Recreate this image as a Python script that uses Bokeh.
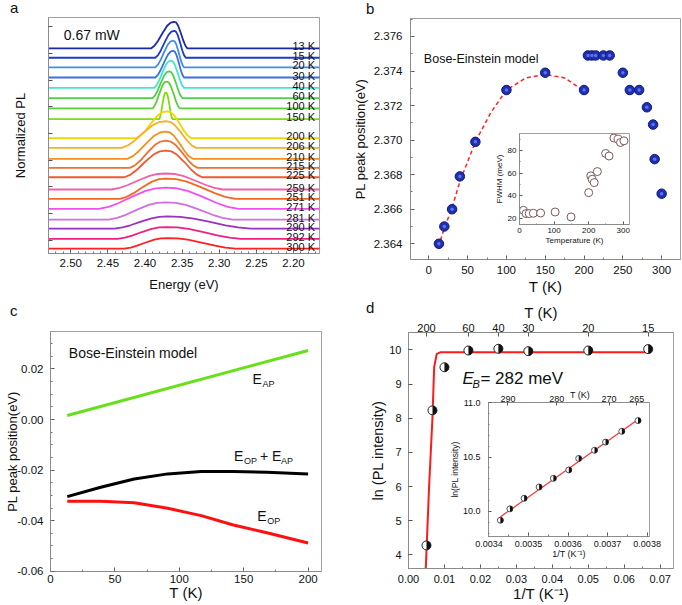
import math
from bokeh.plotting import figure
from bokeh.models import (Range1d, LinearAxis, FixedTicker, SingleIntervalTicker,
                          NumeralTickFormatter, CustomJSTickFormatter, Label, Div)
from bokeh.layouts import column
from bokeh.embed import file_html
from bokeh.resources import INLINE
from bokeh.core.properties import value

FONT = "Liberation Sans"

# ---------------- panel a : stacked normalized PL spectra ----------------
a_labels = ["13 K", "15 K", "20 K", "30 K", "40 K", "60 K", "100 K", "150 K", "200 K", "206 K",
            "210 K", "215 K", "225 K", "259 K", "251 K", "271 K", "281 K", "290 K", "292 K", "300 K"]
a_base = [7.19, 6.84, 6.48, 6.10, 5.71, 5.33, 4.94, 4.54, 3.83, 3.46,
          3.05, 2.71, 2.36, 1.90, 1.55, 1.17, 0.77, 0.43, 0.05, -0.32]
a_height = [1.00, 1.01, 1.00, 1.00, 1.02, 1.00, 1.01, 1.00, 1.00, 1.00,
            1.02, 1.02, 1.00, 0.60, 0.76, 0.80, 0.65, 0.46, 0.44, 0.40]
a_peak = [2.3607, 2.3607, 2.3621, 2.3621, 2.3652, 2.3674, 2.3709, 2.3719, 2.3705, 2.3719,
          2.3719, 2.3719, 2.3719, 2.3720, 2.3719, 2.3720, 2.3720, 2.3700, 2.3715, 2.3700]
a_left = [2.3920, 2.3862, 2.3862, 2.3862, 2.3876, 2.3898, 2.3898, 2.3808, 2.4116, 2.4317,
          2.4241, 2.4205, 2.4277, 2.4450, 2.4340, 2.4625, 2.4490, 2.4410, 2.4370, 2.4280]
a_right = [2.3429, 2.3452, 2.3475, 2.3475, 2.3475, 2.3497, 2.3531, 2.3630, 2.3380, 2.3313,
           2.3357, 2.3290, 2.3228, 2.2950, 2.2780, 2.2740, 2.2820, 2.2580, 2.2710, 2.2780]
a_colors = ["#1a2aa8", "#1e3cc8", "#3f8fe6", "#3d6fe0", "#3fe6d6", "#4ad44a", "#5ad038", "#7edc10",
            "#f5d400", "#f5b027", "#f5901e", "#f07030", "#f05a30", "#f060a8", "#f06a1e", "#f050f0",
            "#d070e0", "#9a30c0", "#f02080", "#ff2020"]
a_shape_frac = [0.0, 0.15, 0.3, 0.5, 0.7, 0.85, 1.0]
a_shape_h = [0.0, 0.10, 0.28, 0.58, 0.85, 0.97, 1.0]
a_span = [2.56, 2.14]

# ---------------- panel b : PL peak position vs T ----------------
b_T = [13, 20, 30, 40, 60, 100, 150, 200, 205, 210, 215, 225, 233, 250, 259, 271, 281, 289, 291, 300]
b_E = [2.3640, 2.3650, 2.3660, 2.3679, 2.3699, 2.3729, 2.3739, 2.3729, 2.3749, 2.3749,
       2.3749, 2.3749, 2.3749, 2.3739, 2.3729, 2.3729, 2.3719, 2.3709, 2.3689, 2.3669]
b_fit_T = [15, 20, 30, 40, 60, 80, 100, 125, 150, 175, 198]
b_fit_E = [2.3642, 2.3649, 2.3661, 2.3676, 2.3699, 2.3716, 2.3729, 2.3736, 2.3738, 2.3736, 2.3729]
# inset: FWHM vs temperature
bi_T = [11.5, 19, 28, 40, 61, 103, 149, 200, 206, 210, 216, 225, 249, 259, 273, 285, 292, 302]
bi_F = [27.1, 24.2, 24.2, 24.5, 24.7, 25.6, 21.2, 42.8, 57.7, 54.7, 51.7, 61.5, 77.6, 75.3,
        91.3, 90.3, 87.3, 88.8]

# ---------------- panel c : Bose-Einstein components ----------------
c_ap_T = [13, 200]
c_ap_E = [0.0016, 0.0273]
c_T = [13, 39, 65, 91, 117, 142, 168, 200]
c_sum_E = [-0.0305, -0.0268, -0.0235, -0.0215, -0.0206, -0.0206, -0.0209, -0.0215]
c_op_E = [-0.0323, -0.0323, -0.0329, -0.0351, -0.0380, -0.0417, -0.0448, -0.0488]

# ---------------- panel d : Arrhenius plot ----------------
d_T = [200, 150, 100, 60, 40, 30, 20, 15]
d_lnI = [4.28, 8.23, 9.49, 9.98, 10.03, 9.96, 9.98, 10.02]
d_fit_invT = [0.0048, 0.00572, 0.00667, 0.00713, 0.00786, 0.00897, 0.0200, 0.0400, 0.0667]
d_fit_lnI = [3.60, 5.98, 8.03, 9.49, 9.88, 9.93, 9.93, 9.93, 9.93]
d_top_T = [200, 60, 40, 30, 20, 15]
# inset
di_invT = [0.003429, 0.003453, 0.003489, 0.003527, 0.003563, 0.003602, 0.003627, 0.003667,
           0.003695, 0.003736, 0.003777]
di_lnI = [9.919, 10.024, 10.121, 10.225, 10.304, 10.382, 10.487, 10.562, 10.637, 10.736, 10.835]
di_fit_invT = [0.003429, 0.003777]
di_fit_lnI = [9.95, 10.845]
di_top_T = [290, 280, 270, 265]

AXIS_GRAY = "#8c8c8c"
X_OFF, Y_OFF = 0, 0   # where the layout root sits on the page


def make_fig(w, h, xr, yr, bl, br, bt, bb, **kw):
    p = figure(width=w, height=h, x_range=xr, y_range=yr, output_backend="svg",
               toolbar_location=None, min_border_left=bl, min_border_right=br,
               min_border_top=bt, min_border_bottom=bb, frame_align=False, **kw)
    p.grid.visible = False
    p.outline_line_color = "#a0a0a0"
    p.outline_line_width = 1
    return p


def style_axis(ax, tick_fs, label_fs, lab_standoff, axlab_standoff):
    ax.major_label_text_font = FONT
    ax.major_label_text_font_size = tick_fs
    ax.major_label_text_color = "#111111"
    ax.axis_label_text_font = FONT
    ax.axis_label_text_font_size = label_fs
    ax.axis_label_text_font_style = "normal"
    ax.axis_label_text_color = "#111111"
    ax.major_label_standoff = lab_standoff
    ax.axis_label_standoff = axlab_standoff
    ax.major_tick_in = 4
    ax.major_tick_out = 0
    ax.minor_tick_in = 2
    ax.minor_tick_out = 0
    ax.axis_line_color = AXIS_GRAY
    ax.major_tick_line_color = "#555555"
    ax.minor_tick_line_color = "#777777"


def place(obj, left, top):
    obj.styles = {"position": "absolute", "left": f"{left - X_OFF}px", "top": f"{top - Y_OFF}px"}


# ======================= panel a =======================
pa = make_fig(338, 300, Range1d(2.53, 2.165), Range1d(-0.5, 8.35), 48, 19, 17, 47)
xs, ys = [], []
for base, h, el, ep, er in zip(a_base, a_height, a_left, a_peak, a_right):
    x = [a_span[0]] + [el + f * (ep - el) for f in a_shape_frac] + \
        [er + f * (ep - er) for f in reversed(a_shape_frac[:-1])] + [a_span[1]]
    y = [base] + [base + h * s for s in a_shape_h] + \
        [base + h * s for s in reversed(a_shape_h[:-1])] + [base]
    xs.append(x)
    ys.append(y)
for x, y, c in zip(xs, ys, a_colors):
    pa.line(x, y, line_color=c, line_width=1.8)
pa.text(x=2.171, y=a_base, text=a_labels, text_align="right", text_baseline="alphabetic",
        y_offset=-2, text_font=value(FONT), text_font_size="11px", text_color="#111111")
pa.add_layout(Label(x=2.5094, y=7.70, text="0.67 mW", text_font=FONT, text_font_size="14px",
                    text_baseline="middle", text_align="left", text_color="#111111"))
pa.xaxis.ticker = SingleIntervalTicker(interval=0.05, num_minor_ticks=5)
pa.xaxis.formatter = NumeralTickFormatter(format="0.00")
pa.xaxis.axis_label = "Energy (eV)"
style_axis(pa.xaxis[0], "11.5px", "13px", 5, 7)
pa.yaxis.ticker = SingleIntervalTicker(interval=1, num_minor_ticks=0)
pa.yaxis.formatter = CustomJSTickFormatter(code="return '';")
pa.yaxis.axis_label = "Normalized PL"
style_axis(pa.yaxis[0], "1px", "13px", 0, 21)
place(pa, 0, 0)

# ======================= panel b =======================
pb = make_fig(342, 300, Range1d(-23.6, 324.3), Range1d(2.36309, 2.37704), 70, 2, 18, 41)
pb.line(b_fit_T, b_fit_E, line_color="#ff2020", line_width=1.5, line_dash="4 3")
pb.scatter(b_T, b_E, size=9.5, fill_color="#1f2fb4", line_color="#0d1a7a", line_width=1)
pb.scatter(b_T, b_E, size=3.5, fill_color="#6f84f0", line_color=None, fill_alpha=0.8)
pb.add_layout(Label(x=-6.4, y=2.37471, text="Bose-Einstein model", text_font=FONT,
                    text_font_size="12.5px", text_baseline="middle", text_color="#111111"))
pb.xaxis.ticker = SingleIntervalTicker(interval=50, num_minor_ticks=2)
pb.xaxis.axis_label = "T (K)"
style_axis(pb.xaxis[0], "11.5px", "15px", 6, 1)
pb.yaxis.ticker = SingleIntervalTicker(interval=0.002, num_minor_ticks=2)
pb.yaxis.formatter = NumeralTickFormatter(format="0.000")
pb.yaxis.axis_label = "PL peak position(eV)"
style_axis(pb.yaxis[0], "11.5px", "13px", 8, 3)
place(pb, 340, 0)

# inset of b
ib = make_fig(142, 124, Range1d(0, 318), Range1d(14.5, 95.3), 27, 4, 5, 28)
ib.border_fill_color = None
ib.scatter(bi_T, bi_F, size=8, fill_color="white", line_color="#7a5a5a", line_width=1)
ib.xaxis.ticker = SingleIntervalTicker(interval=100, num_minor_ticks=2)
ib.xaxis.axis_label = "Temperature (K)"
style_axis(ib.xaxis[0], "8px", "8px", 3, 0)
ib.yaxis.ticker = SingleIntervalTicker(interval=20, num_minor_ticks=2)
ib.yaxis.axis_label = "FWHM (meV)"
style_axis(ib.yaxis[0], "8px", "8px", 3, 1)
for ax in (ib.xaxis[0], ib.yaxis[0]):
    ax.major_tick_in = 3
    ax.minor_tick_in = 1
place(ib, 491, 128)

# ======================= panel c =======================
pc = make_fig(338, 305, Range1d(0, 210.4), Range1d(-0.0601, 0.0348), 50, 17, 31, 34)
pc.line(c_ap_T, c_ap_E, line_color="#66e01a", line_width=3)
pc.line(c_T, c_sum_E, line_color="#000000", line_width=3)
pc.line(c_T, c_op_E, line_color="#ff1010", line_width=3)
pc.add_layout(Label(x=14.2, y=0.02633, text="Bose-Einstein model", text_font=FONT,
                    text_font_size="14px", text_baseline="middle", text_color="#111111"))


def sub_label(p, x, y, parts):
    # parts: list of (text, size, dx, dy, style)
    for t, fs, dx, dy, st in parts:
        p.add_layout(Label(x=x, y=y, x_offset=dx, y_offset=dy, text=t, text_font=FONT,
                           text_font_size=fs, text_font_style=st, text_baseline="middle",
                           text_color="#111111"))


sub_label(pc, 156.8, 0.01616, [("E", "14px", 0, 0, "normal"), ("AP", "9px", 10, -5, "normal")])
sub_label(pc, 142.5, -0.01428, [("E", "14px", 0, 0, "normal"), ("OP", "9px", 10, -5, "normal"),
                                ("+ E", "14px", 26, 0, "normal"), ("AP", "9px", 47, -5, "normal")])
sub_label(pc, 160.6, -0.0380, [("E", "14px", 0, 0, "normal"), ("OP", "9px", 10, -5, "normal")])
pc.xaxis.ticker = SingleIntervalTicker(interval=50, num_minor_ticks=2)
pc.xaxis.axis_label = "T (K)"
style_axis(pc.xaxis[0], "11.5px", "15px", 3, -2)
pc.yaxis.ticker = SingleIntervalTicker(interval=0.02, num_minor_ticks=4)
pc.yaxis.formatter = NumeralTickFormatter(format="0.00")
pc.yaxis.axis_label = "PL peak position(eV)"
style_axis(pc.yaxis[0], "11.5px", "13px", 7, -6)
place(pc, 0, 300)

# ======================= panel d =======================
d_invT = [1.0 / t for t in d_T]
pd = make_fig(342, 305, Range1d(0, 0.0737), Range1d(3.605, 10.506), 68, 9, 32, 37)
pd.line(d_fit_invT, d_fit_lnI, line_color="#ff1a1a", line_width=2)
pd.scatter(d_invT, d_lnI, size=9, fill_color="white", line_color="#222222", line_width=1)
pd.wedge(d_invT, d_lnI, radius=4.5, radius_units="screen", start_angle=-math.pi / 2,
         end_angle=math.pi / 2, fill_color="#111111", line_color=None)
sub_label(pd, 0.0150, 9.15, [("E", "17px", 0, 0, "italic"), ("B", "11px", 10, -5, "italic"),
                             ("= 282 meV", "17px", 18, 0, "normal")])
pd.xaxis.ticker = SingleIntervalTicker(interval=0.01, num_minor_ticks=2)
pd.xaxis.formatter = NumeralTickFormatter(format="0.00")
pd.xaxis.axis_label = "1/T (K\u207b\u00b9)"
style_axis(pd.xaxis[0], "11px", "15px", 6, -1)
pd.yaxis.ticker = SingleIntervalTicker(interval=1, num_minor_ticks=0)
pd.yaxis.axis_label = "ln (PL intensity)"
style_axis(pd.yaxis[0], "11px", "14.5px", 7, 0)
top_d = LinearAxis(ticker=FixedTicker(ticks=[1.0 / t for t in d_top_T]),
                   formatter=CustomJSTickFormatter(code="return Math.round(1/tick).toString();"),
                   axis_label="T (K)")
style_axis(top_d, "11px", "15px", 1, 0)
pd.add_layout(top_d, "above")
place(pd, 340, 300)

# inset of d
idf = make_fig(216, 192, Range1d(0.003399, 0.003806), Range1d(9.77, 11.001), 38, 13, 18, 40)
idf.border_fill_color = None
idf.line(di_fit_invT, di_fit_lnI, line_color="#ff3030", line_width=1.2)
idf.scatter(di_invT, di_lnI, size=6, fill_color="white", line_color="#555555", line_width=1)
idf.wedge(di_invT, di_lnI, radius=3, radius_units="screen", start_angle=-math.pi / 2,
          end_angle=math.pi / 2, fill_color="#111111", line_color=None)
idf.xaxis.ticker = SingleIntervalTicker(interval=0.0001, num_minor_ticks=2)
idf.xaxis.formatter = NumeralTickFormatter(format="0.0000")
idf.xaxis.axis_label = "1/T (K\u207b\u00b9)"
style_axis(idf.xaxis[0], "9px", "9px", 4, -1)
idf.yaxis.ticker = SingleIntervalTicker(interval=0.5, num_minor_ticks=5)
idf.yaxis.formatter = NumeralTickFormatter(format="0.0")
idf.yaxis.axis_label = "ln(PL intensity)"
style_axis(idf.yaxis[0], "9px", "8.5px", 8, 0)
top_di = LinearAxis(ticker=FixedTicker(ticks=[1.0 / t for t in di_top_T]),
                    formatter=CustomJSTickFormatter(code="return Math.round(1/tick).toString();"))
style_axis(top_di, "9px", "9px", 1, 0)
idf.add_layout(top_di, "above")
for ax in (idf.xaxis[0], idf.yaxis[0], top_di):
    ax.major_tick_in = 3
    ax.minor_tick_in = 1
place(idf, 446, 384)


def div_text(t, left, top, fs, style="normal"):
    d = Div(text=t, margin=0)
    d.styles = {"position": "absolute", "left": f"{left - X_OFF}px", "top": f"{top - Y_OFF}px",
                "font-size": fs, "font-family": FONT, "font-style": style, "color": "#111111",
                "line-height": "1", "white-space": "nowrap", "padding": "0", "margin": "0"}
    return d


letters = [div_text("a", 10, 0, "15px"), div_text("b", 366, 1, "15px"),
           div_text("c", 10, 303, "15px"), div_text("d", 366, 300, "15px"),
           div_text("T (K)", 570, 391, "9px")]

root = column(children=[pa, pb, pc, pd, ib, idf] + letters,
              styles={"position": "relative", "width": "666px", "height": "589px"})

with open("out.html", "w") as f:
    f.write(file_html(root, INLINE))
